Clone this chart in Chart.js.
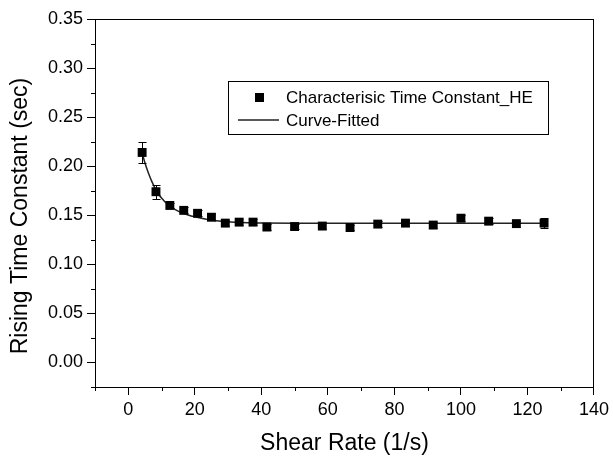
<!DOCTYPE html>
<html>
<head>
<meta charset="utf-8">
<script src="https://cdn.jsdelivr.net/npm/chart.js@4.4.1/dist/chart.umd.min.js"></script>
<style>
  html, body { margin: 0; padding: 0; background: #fff; }
  #wrap { position: relative; width: 613px; height: 459px; }
</style>
</head>
<body>
<div id="wrap"><canvas id="riseChart"></canvas></div>
<script>
// measured rising time constant vs shear rate
const shearRate = [4.17, 8.33, 12.5, 16.67, 20.83, 25, 29.17, 33.33, 37.5, 41.67, 50, 58.33, 66.67, 75, 83.33, 91.67, 100, 108.33, 116.67, 125];
const riseTime = [0.214, 0.174, 0.160, 0.155, 0.152, 0.148, 0.142, 0.143, 0.143, 0.138, 0.1385, 0.139, 0.1375, 0.141, 0.142, 0.140, 0.147, 0.144, 0.1415, 0.142];
const riseErr = [0.011, 0.007, 0.003, 0.003, 0.003, 0.003, 0.003, 0.003, 0.003, 0.003, 0.003, 0.003, 0.003, 0.003, 0.003, 0.003, 0.003, 0.003, 0.003, 0.005];

// fitted curve
const fitRate = [4.17, 5, 6, 7, 8, 9, 10, 12, 14, 16, 18, 20, 22, 25, 28, 32, 36, 40, 50, 125];
const fitTime = [0.2135, 0.2035, 0.1935, 0.1850, 0.1780, 0.1722, 0.1675, 0.1605, 0.1560, 0.1528, 0.1503, 0.1484, 0.1469, 0.1452, 0.1440, 0.1430, 0.1424, 0.1421, 0.1419, 0.1419];

const xTicks = [0, 20, 40, 60, 80, 100, 120, 140];
const xMinor = [-10, 10, 30, 50, 70, 90, 110, 130];
const yTicks = [0, 0.05, 0.10, 0.15, 0.20, 0.25, 0.30, 0.35];
const yMinor = [-0.025, 0.025, 0.075, 0.125, 0.175, 0.225, 0.275, 0.325];

const legendLabels = ['Characterisic Time Constant_HE', 'Curve-Fitted'];
const yTitle = 'Rising Time Constant (sec)';

Chart.defaults.font.family = "'Liberation Sans', Arial, sans-serif";
Chart.defaults.color = '#000';

//--- error bars ---//
const errorBars = {
    id: 'errorBars',
    afterDatasetsDraw(chart) {
        const { ctx, scales: { x, y } } = chart;
        ctx.save();
        ctx.strokeStyle = '#000';
        ctx.lineWidth = 1;
        shearRate.forEach((v, i) => {
            const px = Math.round(x.getPixelForValue(v)) + 0.5;
            const top = Math.round(y.getPixelForValue(riseTime[i] + riseErr[i])) + 0.5;
            const bot = Math.round(y.getPixelForValue(riseTime[i] - riseErr[i])) + 0.5;
            ctx.beginPath();
            ctx.moveTo(px, top); ctx.lineTo(px, bot);
            ctx.moveTo(px - 4, top); ctx.lineTo(px + 4, top);
            ctx.moveTo(px - 4, bot); ctx.lineTo(px + 4, bot);
            ctx.stroke();
        });
        ctx.restore();
    }
};

//--- minor ticks, y title, legend box ---//
const extras = {
    id: 'extras',
    afterDraw(chart) {
        const { ctx, chartArea, scales: { x, y } } = chart;
        ctx.save();
        ctx.strokeStyle = '#000';
        ctx.lineWidth = 1;
        ctx.beginPath();
        xMinor.forEach(v => {
            const px = Math.round(x.getPixelForValue(v)) + 0.5;
            ctx.moveTo(px, chartArea.bottom); ctx.lineTo(px, chartArea.bottom + 4);
        });
        yMinor.forEach(v => {
            const py = Math.round(y.getPixelForValue(v)) + 0.5;
            ctx.moveTo(chartArea.left, py); ctx.lineTo(chartArea.left - 4, py);
        });
        ctx.stroke();

        // y title (sits a bit below the axis middle, like the original)
        ctx.save();
        ctx.translate(21, 216);
        ctx.rotate(-Math.PI / 2);
        ctx.font = "23px 'Liberation Sans', Arial, sans-serif";
        ctx.fillStyle = '#000';
        ctx.textAlign = 'center';
        ctx.textBaseline = 'middle';
        ctx.fillText(yTitle, 0, 0);
        ctx.restore();

        // legend
        ctx.strokeRect(228.5, 81.5, 320, 53);
        ctx.fillStyle = '#000';
        ctx.fillRect(255, 93, 9, 9);
        ctx.strokeStyle = '#222';
        ctx.lineWidth = 1.5;
        ctx.beginPath();
        ctx.moveTo(238, 120); ctx.lineTo(279, 120);
        ctx.stroke();
        ctx.font = "17px 'Liberation Sans', Arial, sans-serif";
        ctx.textBaseline = 'middle';
        ctx.fillText(legendLabels[0], 286, 98);
        ctx.fillText(legendLabels[1], 286, 121);
        ctx.restore();
    }
};

const riseCtx = document.getElementById('riseChart').getContext('2d');
const riseChart = new Chart(riseCtx, {
    type: 'line',
    data: {
        datasets: [{
            label: legendLabels[0],
            data: shearRate.map((v, i) => ({ x: v, y: riseTime[i] })),
            showLine: false,
            pointStyle: 'rect',
            pointRadius: 6.3,
            pointBackgroundColor: '#000',
            pointBorderWidth: 0,
        }, {
            label: legendLabels[1],
            data: fitRate.map((v, i) => ({ x: v, y: fitTime[i] })),
            borderColor: '#222',
            borderWidth: 1.5,
            pointRadius: 0,
            cubicInterpolationMode: 'monotone',
        }]
    },
    options: {
        responsive: true,
        maintainAspectRatio: false,
        animation: false,
        devicePixelRatio: 1,
        layout: { padding: 0 },
        plugins: {
            legend: { display: false },
            tooltip: { enabled: false }
        },
        scales: {
            x: {
                type: 'linear',
                position: 'bottom',
                min: -10,
                max: 140,
                afterBuildTicks: s => { s.ticks = xTicks.map(v => ({ value: v })); },
                afterFit: s => { s.height = 72; },
                border: { display: true, color: '#000', width: 1 },
                grid: { drawOnChartArea: false, drawTicks: true, tickLength: 8, tickColor: '#000' },
                ticks: { font: { size: 18 }, padding: 4, maxRotation: 0, autoSkip: false, callback: v => v },
                title: { display: true, text: 'Shear Rate (1/s)', font: { size: 23 }, padding: { top: 0, bottom: 2 } }
            },
            y: {
                type: 'linear',
                position: 'left',
                min: -0.025,
                max: 0.35,
                afterBuildTicks: s => { s.ticks = yTicks.map(v => ({ value: v })); },
                afterFit: s => { s.width = 95; },
                border: { display: true, color: '#000', width: 1 },
                grid: { drawOnChartArea: false, drawTicks: true, tickLength: 8, tickColor: '#000' },
                ticks: { font: { size: 18 }, padding: 4, autoSkip: false, callback: v => v.toFixed(2) }
            },
            x2: {
                type: 'linear',
                position: 'top',
                min: -10,
                max: 140,
                afterFit: s => { s.height = 19; },
                border: { display: true, color: '#000', width: 1 },
                grid: { display: false },
                ticks: { display: false }
            },
            y2: {
                type: 'linear',
                position: 'right',
                min: -0.025,
                max: 0.35,
                afterFit: s => { s.width = 19; },
                border: { display: true, color: '#000', width: 1 },
                grid: { display: false },
                ticks: { display: false }
            }
        }
    },
    plugins: [errorBars, extras]
});
</script>
</body>
</html>
